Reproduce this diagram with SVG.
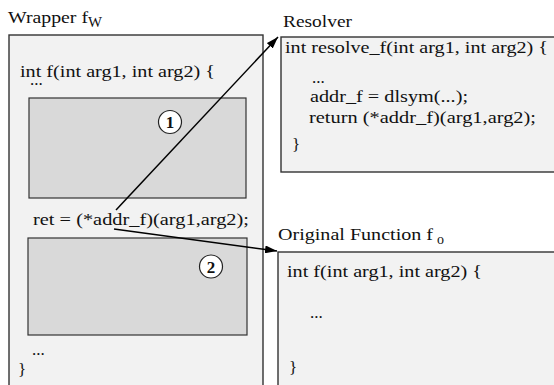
<svg xmlns="http://www.w3.org/2000/svg" width="554" height="385" viewBox="0 0 554 385">
<defs>
<style>
text{font-family:"Liberation Serif","Times New Roman",serif;font-size:17px;fill:#111}
.box{fill:#f2f2f2;stroke:#333;stroke-width:1.4}
.inner{fill:#d9d9d9;stroke:#333;stroke-width:1.2}
.num{fill:#fff;stroke:#222;stroke-width:1.2}
.numt{font-weight:bold;font-size:17px;text-anchor:middle}
.conn{stroke:#000;stroke-width:1.5;fill:none}
.sub{font-size:14px}
</style>
<marker id="ah" viewBox="0 0 12 8" refX="12" refY="4" markerWidth="12" markerHeight="8" markerUnits="userSpaceOnUse" orient="auto">
<path d="M0,0 L12,4 L0,8 z" fill="#000"/>
</marker>
</defs>
<rect width="554" height="385" fill="#fff"/>
<g id="wrapper">
<text x="8" y="23"><tspan textLength="80" lengthAdjust="spacingAndGlyphs">Wrapper f</tspan><tspan class="sub" dy="4" textLength="14" lengthAdjust="spacingAndGlyphs">W</tspan></text>
<rect class="box" x="9" y="35" width="254" height="360"/>
<text x="20" y="77" textLength="195" lengthAdjust="spacingAndGlyphs">int f(int arg1, int arg2) {</text>
<text x="30" y="85">...</text>
<rect class="inner" x="29" y="98" width="217" height="100"/>
<text x="33" y="225" textLength="216" lengthAdjust="spacingAndGlyphs">ret = (*addr_f)(arg1,arg2);</text>
<rect class="inner" x="28" y="238" width="219" height="97"/>
<text x="32" y="355">...</text>
<text x="18" y="375">}</text>
</g>
<g id="resolver">
<text x="283" y="27" textLength="69" lengthAdjust="spacingAndGlyphs">Resolver</text>
<rect class="box" x="281" y="37" width="275" height="135"/>
<text x="285" y="53" textLength="263" lengthAdjust="spacingAndGlyphs">int resolve_f(int arg1, int arg2) {</text>
<text x="312" y="83">...</text>
<text x="310" y="102" textLength="158" lengthAdjust="spacingAndGlyphs">addr_f = dlsym(...);</text>
<text x="309" y="123" textLength="227" lengthAdjust="spacingAndGlyphs">return (*addr_f)(arg1,arg2);</text>
<text x="292" y="150">}</text>
</g>
<g id="original">
<text x="278" y="240"><tspan textLength="155" lengthAdjust="spacingAndGlyphs">Original Function f</tspan><tspan class="sub" dx="4" dy="4">o</tspan></text>
<rect class="box" x="278" y="252" width="280" height="140"/>
<text x="287" y="277" textLength="195" lengthAdjust="spacingAndGlyphs">int f(int arg1, int arg2) {</text>
<text x="310" y="318">...</text>
<text x="289" y="373">}</text>
</g>
<g id="step1">
<circle class="num" cx="170" cy="122" r="11.5"/>
<text class="numt" x="170" y="128">1</text>
</g>
<g id="step2">
<circle class="num" cx="211" cy="266.5" r="11.5"/>
<text class="numt" x="211" y="272.5">2</text>
</g>
<g id="connectors">
<line class="conn" x1="116" y1="210" x2="278" y2="37" marker-end="url(#ah)"/>
<line class="conn" x1="114" y1="229" x2="277" y2="251" marker-end="url(#ah)"/>
</g>
</svg>
